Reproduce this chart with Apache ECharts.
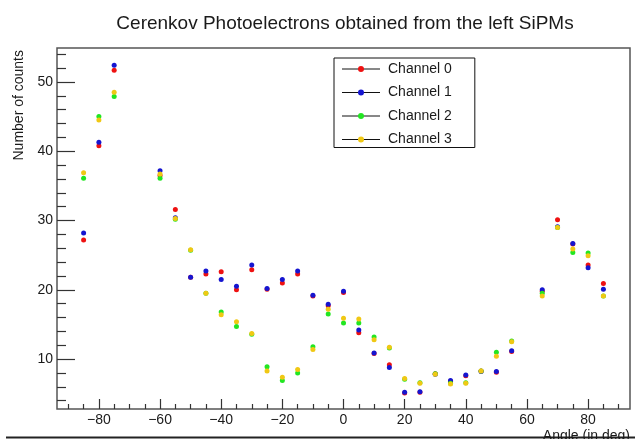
<!DOCTYPE html>
<html>
<head>
<meta charset="utf-8">
<script src="https://cdn.jsdelivr.net/npm/echarts@6/dist/echarts.min.js"></script>
<style>
html,body{margin:0;padding:0;background:#fff;}
#chart{width:635px;height:439px;}
</style>
</head>
<body>
<div id="chart"></div>
<script>
// ---- Data ----
const angles = [-85,-80,-75,-60,-55,-50,-45,-40,-35,-30,-25,-20,-15,-10,-5,0,5,10,15,20,25,30,35,40,45,50,55,65,70,75,80,85];
const channel0 = [27.2,40.8,51.7,36.5,31.6,21.8,22.3,22.6,20.0,22.9,20.1,21.0,22.3,19.1,17.7,19.6,13.8,10.8,9.2,5.1,5.2,7.9,6.8,7.6,8.3,8.1,11.1,19.8,30.1,26.6,23.6,20.9];
const channel1 = [28.2,41.3,52.4,37.2,30.4,21.8,22.7,21.5,20.5,23.6,20.2,21.5,22.7,19.2,17.9,19.8,14.2,10.9,8.8,5.2,5.3,7.8,6.9,7.7,8.2,8.2,11.2,20.0,29.1,26.7,23.2,20.1];
const channel2 = [36.1,45.0,47.9,36.1,30.2,25.7,19.5,16.8,14.7,13.6,8.9,6.9,8.0,11.8,16.5,15.2,15.2,13.2,11.6,7.1,6.6,7.9,6.5,6.6,8.3,11.0,12.6,19.5,29.0,25.4,25.3,19.1];
const channel3 = [36.9,44.5,48.5,36.7,30.3,25.8,19.5,16.4,15.4,13.7,8.3,7.4,8.5,11.4,17.2,15.9,15.8,12.8,11.7,7.2,6.5,7.8,6.4,6.5,8.3,10.4,12.5,19.1,29.0,25.9,24.9,19.1];
const seriesNames = ['Channel 0','Channel 1','Channel 2','Channel 3'];
const seriesColors = ['#ee1111','#1515d0','#22e622','#f0c814'];
const xMajorTicks = [-80,-60,-40,-20,0,20,40,60,80];
const xMinorTicks = [-90,-85,-75,-70,-65,-55,-50,-45,-35,-30,-25,-15,-10,-5,5,10,15,25,30,35,45,50,55,65,70,75,85,90];
const yMajorTicks = [10,20,30,40,50];
const yMinorTicks = [4,6,8,12,14,16,18,22,24,26,28,32,34,36,38,42,44,46,48,52,54];
const titleText = 'Cerenkov Photoelectrons obtained from the left SiPMs';
const xTitle = 'Angle (in deg)';
const yTitle = 'Number of counts';

const allData = [channel0, channel1, channel2, channel3];
const FONT = 'Liberation Sans, Arial, Helvetica, sans-serif';
const X_MIN = -93.7, X_MAX = 93.7, Y_MIN = 2.8, Y_MAX = 54.9;

const chart = echarts.init(document.getElementById('chart'), null, {renderer: 'canvas'});

const series = allData.map((vals, i) => ({
  name: seriesNames[i],
  type: 'scatter',
  xAxisIndex: 0,
  yAxisIndex: 0,
  symbol: 'circle',
  symbolSize: 5,
  itemStyle: {color: seriesColors[i], opacity: 1},
  emphasis: {disabled: true},
  data: angles.map((a, k) => [a, vals[k]])
}));

const legendRowsY = [69, 92.5, 116, 139.5];
// legend icon: a 6px dot centred in a 38x6 box (zero-area line keeps the box width)
const legendIcon = 'path://M0,3L38,3M16,3A3,3,0,1,1,22,3A3,3,0,1,1,16,3Z';

const axisTickStyle = {color: '#333', width: 1.2};

const option = {
  animation: false,
  backgroundColor: '#ffffff',
  title: {
    text: titleText,
    left: 345,
    top: 14,
    padding: 0,
    textAlign: 'center',
    textStyle: {fontFamily: FONT, fontSize: 19, fontWeight: 'normal', color: '#1a1a1a'}
  },
  grid: {
    left: 57, right: 5, top: 48, bottom: 30,
    containLabel: false,
    outerBoundsMode: 'none',
    show: true,
    borderColor: '#555',
    borderWidth: 1.5,
    backgroundColor: 'transparent'
  },
  legend: {
    orient: 'vertical',
    left: 334,
    top: 58,
    padding: [4, 23, 1, 8],
    itemGap: 9.5,
    itemWidth: 38,
    itemHeight: 6,
    icon: legendIcon,
    borderColor: '#111',
    borderWidth: 1,
    backgroundColor: 'transparent',
    z: 20,
    selectedMode: false,
    itemStyle: {borderWidth: 0},
    textStyle: {fontFamily: FONT, fontSize: 14, color: '#1a1a1a', padding: [0, 0, 0, 3]},
    data: seriesNames
  },
  graphic: legendRowsY.map(y => ({
    type: 'line',
    z: 5,
    shape: {x1: 342, y1: y, x2: 380, y2: y},
    style: {stroke: '#111', lineWidth: 1}
  })).concat([
    {
      type: 'text',
      x: 19,
      y: 50,
      rotation: Math.PI / 2,
      style: {text: yTitle, fontFamily: FONT, fontSize: 14, fill: '#1a1a1a', align: 'right', verticalAlign: 'middle'}
    },
    {
      type: 'line',
      shape: {x1: 6, y1: 437.5, x2: 635, y2: 437.5},
      style: {stroke: '#222', lineWidth: 2}
    }
  ]),
  xAxis: [
    {
      type: 'value',
      min: X_MIN, max: X_MAX,
      position: 'bottom',
      name: xTitle,
      nameLocation: 'end',
      nameGap: 0,
      nameTextStyle: {fontFamily: FONT, fontSize: 14, color: '#1a1a1a', align: 'right', verticalAlign: 'top', padding: [20, 0, 0, 0]},
      axisLine: {show: false, onZero: false},
      splitLine: {show: false},
      axisTick: {show: true, inside: true, length: 10, customValues: xMajorTicks, lineStyle: axisTickStyle},
      axisLabel: {
        show: true, margin: 4, customValues: xMajorTicks,
        fontFamily: FONT, fontSize: 14, color: '#1a1a1a',
        formatter: v => String(v).replace('-', '\u2212')
      }
    },
    {
      type: 'value',
      min: X_MIN, max: X_MAX,
      position: 'bottom',
      axisLine: {show: false, onZero: false},
      splitLine: {show: false},
      axisLabel: {show: false},
      axisTick: {show: true, inside: true, length: 5, customValues: xMinorTicks, lineStyle: axisTickStyle}
    }
  ],
  yAxis: [
    {
      type: 'value',
      min: Y_MIN, max: Y_MAX,
      position: 'left',
      axisLine: {show: false, onZero: false},
      splitLine: {show: false},
      axisTick: {show: true, inside: true, length: 18, customValues: yMajorTicks, lineStyle: axisTickStyle},
      axisLabel: {show: true, margin: 4, customValues: yMajorTicks, fontFamily: FONT, fontSize: 14, color: '#1a1a1a'}
    },
    {
      type: 'value',
      min: Y_MIN, max: Y_MAX,
      position: 'left',
      offset: 0,
      axisLine: {show: false, onZero: false},
      splitLine: {show: false},
      axisLabel: {show: false},
      axisTick: {show: true, inside: true, length: 9, customValues: yMinorTicks, lineStyle: axisTickStyle}
    }
  ],
  series: series
};

chart.setOption(option);
</script>
</body>
</html>
